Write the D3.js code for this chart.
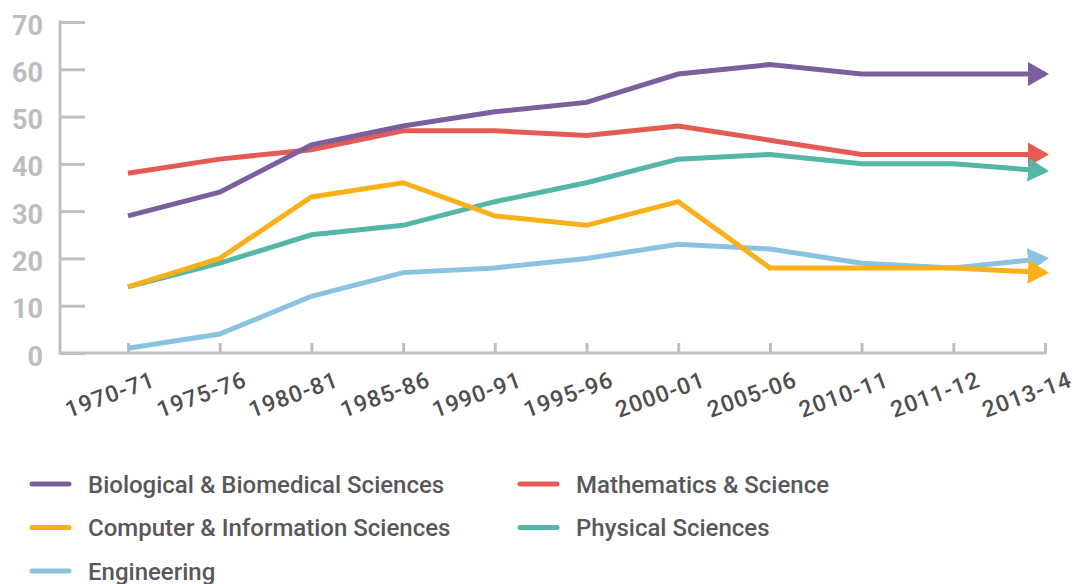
<!DOCTYPE html>
<html>
<head>
<meta charset="utf-8">
<script src="https://cdn.jsdelivr.net/npm/d3@7"></script>
<style>
  body { margin: 0; background: #fff; }
  text { font-family: Roboto, "Open Sans", sans-serif; }
</style>
</head>
<body>
<script>
var years = ["1970-71", "1975-76", "1980-81", "1985-86", "1990-91", "1995-96",
             "2000-01", "2005-06", "2010-11", "2011-12", "2013-14"];
var yTicks = [0, 10, 20, 30, 40, 50, 60, 70];

var biological  = [29, 34, 44, 48, 51, 53, 59, 61, 59, 59, 59];
var mathematics = [38, 41, 43, 47, 47, 46, 48, 45, 42, 42, 42];
var computer    = [14, 20, 33, 36, 29, 27, 32, 18, 18, 18, 17];
var physical    = [14, 19, 25, 27, 32, 36, 41, 42, 40, 40, 38.5];
var engineering = [1, 4, 12, 17, 18, 20, 23, 22, 19, 18, 20];

var seriesNames = ["Biological & Biomedical Sciences", "Mathematics & Science",
                   "Computer & Information Sciences", "Physical Sciences", "Engineering"];

var series = [
  { name: seriesNames[0], values: biological,  color: "#7b5f9c" },
  { name: seriesNames[1], values: mathematics, color: "#e35b54" },
  { name: seriesNames[2], values: computer,    color: "#fbb01a" },
  { name: seriesNames[3], values: physical,    color: "#53b6a6" },
  { name: seriesNames[4], values: engineering, color: "#89c3e1" }
];
// which line sits on top of which
var drawOrder = [1, 0, 4, 3, 2];

var width = 1078, height = 584;
var axisX = 60, axisY = 353;

var svg = d3.select("body").append("svg")
  .attr("width", width)
  .attr("height", height);

var x = d3.scalePoint().domain(years).range([128, 1045]);
var y = d3.scaleLinear().domain([0, 70]).range([axisY, 22]);

var axisColor = "#bfbfc1";

// y axis, ticks pointing into the plot
var yAxis = svg.append("g")
  .attr("transform", "translate(" + axisX + ",0)")
  .call(d3.axisLeft(y).tickValues(yTicks).tickSizeInner(-25).tickSizeOuter(0).tickPadding(17));
yAxis.select(".domain").remove();
yAxis.selectAll(".tick line").attr("stroke", axisColor).attr("stroke-width", 3);
yAxis.selectAll(".tick text")
  .attr("fill", "#bdbdbf")
  .attr("font-family", "'Open Sans', sans-serif")
  .attr("font-size", "27px")
  .attr("font-weight", "bold")
  .attr("dy", 12);

// x axis, ticks pointing up
var xAxis = svg.append("g")
  .attr("transform", "translate(0," + axisY + ")")
  .call(d3.axisBottom(x).tickSizeInner(-10).tickSizeOuter(0));
xAxis.select(".domain").remove();
xAxis.selectAll(".tick line").attr("stroke", axisColor).attr("stroke-width", 3);
xAxis.selectAll(".tick text")
  .attr("fill", "#4e4e50")
  .attr("font-size", "23px")
  .attr("font-weight", 500)
  .attr("letter-spacing", "1px")
  .attr("text-anchor", "end")
  .attr("transform", "translate(28,33) rotate(-20)")
  .attr("y", 0)
  .attr("dy", 0);

// axis lines
svg.append("line")
  .attr("x1", axisX).attr("x2", axisX)
  .attr("y1", y(70) - 1.5).attr("y2", axisY + 1.5)
  .attr("stroke", axisColor).attr("stroke-width", 3);
svg.append("line")
  .attr("x1", axisX).attr("x2", x(years[years.length - 1]) + 1.5)
  .attr("y1", axisY).attr("y2", axisY)
  .attr("stroke", axisColor).attr("stroke-width", 3);

// arrow heads
var defs = svg.append("defs");
series.forEach(function(s, i) {
  defs.append("marker")
    .attr("id", "arrow" + i)
    .attr("markerUnits", "userSpaceOnUse")
    .attr("viewBox", "0 0 21 24")
    .attr("markerWidth", 21)
    .attr("markerHeight", 24)
    .attr("refX", 17)
    .attr("refY", 12)
    .attr("orient", "auto")
    .append("path")
    .attr("d", "M0,0L21,12L0,24Z")
    .attr("fill", s.color);
});

var line = d3.line()
  .x(function(d, i) { return x(years[i]); })
  .y(function(d) { return y(d); });

drawOrder.forEach(function(i) {
  var s = series[i];
  svg.append("path")
    .datum(s.values)
    .attr("d", line)
    .attr("fill", "none")
    .attr("stroke", s.color)
    .attr("stroke-width", 5)
    .attr("marker-end", "url(#arrow" + i + ")");
});

// legend, two columns
var legend = svg.append("g");
series.forEach(function(s, i) {
  var col = i % 2, row = Math.floor(i / 2);
  var g = legend.append("g")
    .attr("transform", "translate(" + (col ? 518 : 30) + "," + (484 + row * 43.5) + ")");
  g.append("line")
    .attr("x1", 2).attr("x2", 39)
    .attr("stroke", s.color)
    .attr("stroke-width", 5)
    .attr("stroke-linecap", "round");
  g.append("text")
    .attr("x", 58)
    .attr("y", 8.5)
    .attr("fill", "#58585a")
    .attr("font-size", "24px")
    .attr("font-weight", 500)
    .text(s.name);
});
</script>
</body>
</html>
